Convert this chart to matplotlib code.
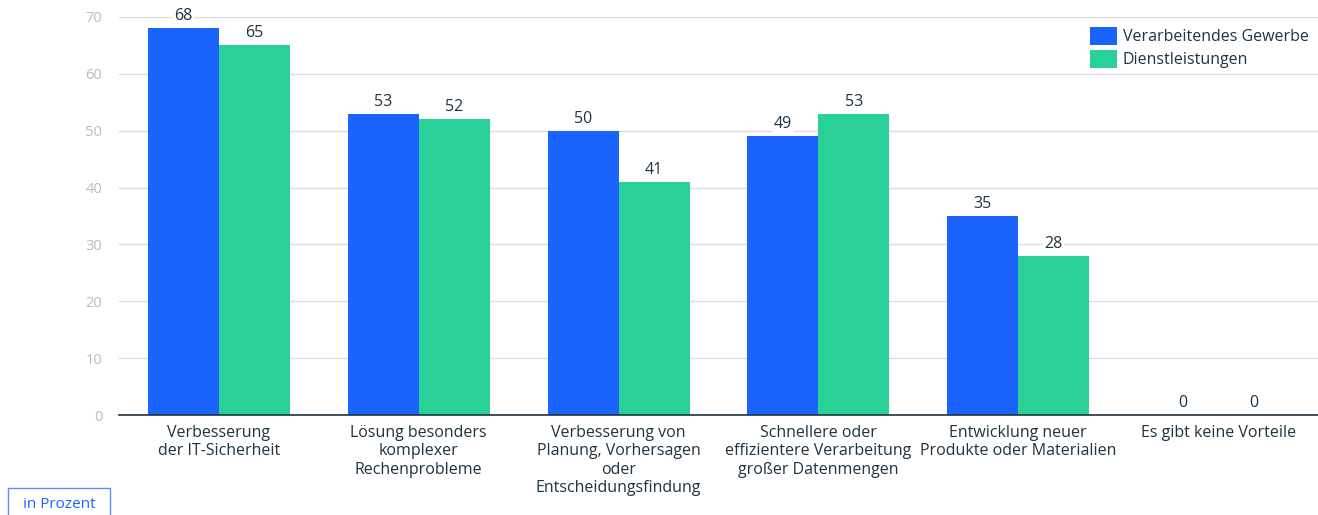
import matplotlib
matplotlib.use("Agg")
import matplotlib.pyplot as plt
import numpy as np
from matplotlib.patches import FancyBboxPatch

plt.rcParams['font.family'] = ['Open Sans', 'DejaVu Sans']

categories = [
    "Verbesserung\nder IT-Sicherheit",
    "Lösung besonders\nkomplexer\nRechenprobleme",
    "Verbesserung von\nPlanung, Vorhersagen\noder\nEntscheidungsfindung",
    "Schnellere oder\neffizientere Verarbeitung\ngroßer Datenmengen",
    "Entwicklung neuer\nProdukte oder Materialien",
    "Es gibt keine Vorteile",
]
gewerbe = [68, 53, 50, 49, 35, 0]
dienst = [65, 52, 41, 53, 28, 0]
series_names = ["Verarbeitendes Gewerbe", "Dienstleistungen"]

blue = '#1a63ff'
green = '#2ad196'
text_col = '#1f3340'

fig = plt.figure(figsize=(13.18, 5.15), dpi=100)
ax = fig.add_axes([0.0903, 0.194, 0.9097, 0.773])

x = np.arange(len(categories))
w = 0.355
b1 = ax.bar(x - w / 2, gewerbe, w, color=blue, label=series_names[0], zorder=3)
b2 = ax.bar(x + w / 2, dienst, w, color=green, label=series_names[1], zorder=3)

for bars, vals in [(b1, gewerbe), (b2, dienst)]:
    for r, v in zip(bars, vals):
        ax.text(r.get_x() + r.get_width() / 2, v + 0.7, f"{v}", ha='center', va='bottom',
                fontsize=11.5, color=text_col, zorder=4,
                bbox=dict(facecolor='white', edgecolor='none', pad=1.0))

ax.set_xlim(-0.5, len(categories) - 0.5)
ax.set_ylim(0, 70)
ax.set_yticks(range(0, 71, 10))
ax.yaxis.grid(True, color='#dddddd', linewidth=1, zorder=0)
ax.set_axisbelow(True)
for s in ['top', 'right', 'left']:
    ax.spines[s].set_visible(False)
ax.spines['bottom'].set_color(text_col)
ax.spines['bottom'].set_linewidth(1.2)
ax.spines['bottom'].set_zorder(5)
ax.tick_params(axis='y', length=0, pad=12, labelsize=10.5, labelcolor='#bbbbbb')
ax.tick_params(axis='x', length=0, pad=7)
ax.set_xticks(x)
ax.set_xticklabels(categories, fontsize=11.5, color=text_col, linespacing=1.2)

leg = ax.legend(loc='upper right', bbox_to_anchor=(1.0, 1.0), frameon=False,
                fontsize=11.5, handlelength=1.7, handleheight=1.4, handletextpad=0.35,
                labelspacing=0.3, borderaxespad=0.2)
for t in leg.get_texts():
    t.set_color(text_col)

fig.patches.append(FancyBboxPatch((8 / 1318, -0.01), 102 / 1318, 32 / 515,
                                  boxstyle='square,pad=0', transform=fig.transFigure,
                                  facecolor='white', edgecolor='#5b8cff', linewidth=1))
fig.text(59 / 1318, 11 / 515, "in Prozent", ha='center', va='center', fontsize=11, color=blue)

fig.savefig('out.png', dpi=100)
